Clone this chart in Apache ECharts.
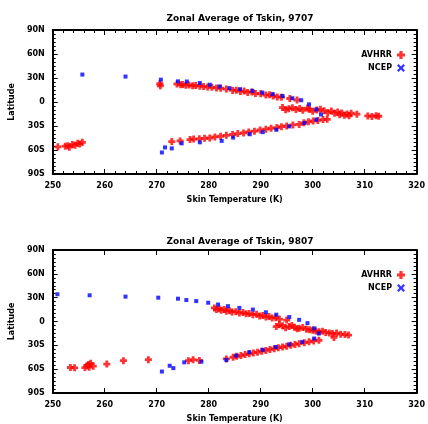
<!DOCTYPE html>
<html>
<head>
<meta charset="utf-8">
<script src="https://cdn.jsdelivr.net/npm/echarts@6/dist/echarts.min.js"></script>
<style>
  html, body { margin: 0; padding: 0; background: #fff; }
  #chart { width: 428px; height: 424px; }
</style>
</head>
<body>
<div id="chart"></div>
<script>
const titles = ["Zonal Average of Tskin, 9707", "Zonal Average of Tskin, 9807"];
const xTicks = [250, 260, 270, 280, 290, 300, 310, 320];
const latTicks = [-90, -60, -30, 0, 30, 60, 90];

// panel 1 — AVHRR (red) skin temperature (K) and latitude (deg)
const p1AvhrrTemp = [251.0, 252.9, 253.8, 254.8, 255.7, 253.2, 254.3, 252.4, 255.2,
  270.6, 270.7, 273.9, 274.6, 275.0, 275.6, 276.2, 276.9, 277.5, 278.3, 279.0, 279.8, 280.6, 281.5, 282.3, 283.4, 284.6, 285.3, 286.1, 286.8, 287.5, 288.3, 289.0, 290.0, 291.0, 291.7, 292.4, 293.2, 294.0, 295.6, 297.0,
  294.2, 294.8, 295.4, 296.1, 296.8, 297.5, 298.1, 299.0, 299.3, 300.0, 300.8, 301.5, 302.2, 302.9, 303.6, 304.2, 304.8, 305.2, 305.6, 306.1, 306.6, 307.0, 307.4, 308.5, 310.6, 311.4, 312.2, 312.7,
  302.8, 302.0, 301.0, 300.1, 299.2, 298.3, 297.4, 296.2, 295.0, 294.0, 293.1, 292.0, 291.0, 289.9, 288.8, 287.7, 286.7, 285.6, 284.6, 283.4, 282.3, 281.2, 280.2, 279.2, 278.2, 277.1, 276.4, 274.5, 272.9];
const p1AvhrrLat = [-56.0, -54.6, -53.0, -51.7, -50.4, -56.5, -54.0, -55.2, -52.6,
  22.8, 20.3, 22.5, 21.5, 21.9, 20.8, 21.4, 20.2, 20.6, 19.8, 19.5, 18.6, 18.3, 17.6, 17.2, 16.2, 14.5, 14.8, 13.2, 13.6, 12.0, 12.6, 10.6, 10.2, 8.6, 9.0, 7.6, 6.4, 6.0, 4.4, 2.5,
  -7.0, -9.6, -8.4, -7.2, -9.5, -8.0, -10.4, -7.6, -9.0, -11.6, -10.0, -9.2, -11.0, -13.2, -11.3, -14.0, -12.5, -16.0, -13.8, -16.5, -15.0, -17.2, -14.0, -15.2, -17.4, -18.0, -17.2, -17.8,
  -21.6, -22.0, -23.0, -23.6, -24.8, -26.0, -28.0, -28.6, -30.0, -30.8, -32.0, -32.8, -34.0, -35.0, -36.5, -37.4, -38.6, -39.5, -40.6, -41.6, -42.8, -43.6, -45.0, -45.4, -46.0, -46.4, -47.0, -48.6, -49.5];

// panel 1 — NCEP (blue)
const p1NcepTemp = [255.7, 264.0, 270.8, 274.1, 275.8, 278.3, 280.2, 282.1, 284.0, 286.0, 288.4, 290.3, 292.3, 294.2, 296.1, 297.8,
  299.3, 300.7, 301.6, 300.7, 298.4, 295.5, 293.0, 290.4, 287.9, 284.7, 282.5, 278.3, 274.8, 272.9, 271.6, 271.0];
const p1NcepLat = [34.3, 31.8, 27.9, 25.8, 25.6, 23.7, 21.6, 19.4, 17.4, 16.1, 14.0, 11.8, 9.8, 7.6, 4.7, 2.2,
  -2.9, -9.3, -15.6, -22.0, -26.3, -30.5, -34.7, -37.7, -40.3, -44.5, -48.6, -50.4, -51.7, -58.0, -56.8, -63.1];

// panel 2 — AVHRR (red)
const p2AvhrrTemp = [253.4, 254.2, 256.6, 257.3, 257.0, 256.9, 257.8, 256.2, 260.4, 263.6, 268.4, 276.1, 277.0, 278.2,
  281.1, 281.5, 282.0, 282.4, 283.0, 283.4, 284.0, 284.5, 285.2, 285.9, 286.6, 287.2, 287.8, 288.5, 289.2, 289.8, 290.4, 291.0, 291.6, 292.2, 292.9, 293.6, 295.0,
  293.0, 293.6, 294.2, 294.8, 295.5, 296.0, 296.5, 297.0, 297.4, 298.1, 298.8, 299.4, 300.0, 300.6, 301.2, 301.9, 302.5, 303.2, 303.8, 304.6, 305.4, 306.2, 306.9, 304.1,
  301.2, 300.2, 299.3, 298.4, 297.4, 296.6, 295.8, 295.0, 294.2, 293.4, 292.6, 291.8, 291.0, 290.2, 289.4, 288.6, 287.8, 287.0, 286.2, 285.4, 284.7, 283.4];
const p2AvhrrLat = [-57.9, -58.3, -55.7, -52.7, -57.5, -54.0, -56.2, -58.0, -53.6, -49.3, -48.0, -49.3, -48.0, -49.0,
  17.1, 15.0, 16.2, 14.2, 15.2, 12.9, 13.6, 12.0, 12.4, 10.7, 11.2, 9.6, 10.0, 8.6, 9.0, 7.0, 7.4, 5.6, 6.2, 4.4, 4.8, 3.0, 1.8,
  -6.4, -4.2, -5.2, -8.0, -6.4, -5.0, -7.2, -9.2, -8.6, -7.4, -9.6, -10.4, -11.0, -12.0, -12.9, -12.2, -13.8, -14.4, -15.0, -14.6, -16.0, -16.4, -17.1, -20.1,
  -23.6, -24.4, -25.6, -26.6, -27.9, -28.8, -30.0, -31.0, -32.1, -33.0, -34.2, -35.2, -36.4, -37.4, -38.6, -39.6, -40.7, -41.6, -42.8, -43.8, -45.0, -47.1];

// panel 2 — NCEP (blue)
const p2NcepTemp = [250.9, 257.1, 264.0, 270.3, 274.1, 275.7, 277.6, 279.9, 281.8, 283.7, 285.9, 288.5, 291.0, 293.0, 295.5, 297.4,
  299.0, 300.3, 301.2, 300.3, 298.0, 295.5, 292.9, 290.4, 287.8, 285.3, 283.4, 278.6, 275.3, 272.5, 273.2, 271.0];
const p2NcepLat = [34.3, 33.0, 31.3, 30.0, 28.7, 27.0, 25.7, 23.6, 21.4, 19.3, 17.1, 15.0, 11.6, 8.6, 5.6, 2.1,
  -2.1, -8.6, -15.0, -21.4, -25.7, -28.7, -32.1, -35.6, -38.6, -42.9, -48.4, -50.6, -51.4, -55.7, -58.7, -63.0];

const zip = (xs, ys) => xs.map((x, i) => [x, ys[i]]);
const plusSym = "path://M3,0H7V3H10V7H7V10H3V7H0V3H3Z";
const crossSym = "path://M0,2L2,0L5,3L8,0L10,2L7,5L10,8L8,10L5,7L2,10L0,8L3,5Z";
const font = "DejaVu Sans";

const latLabel = (v) => (v === 0 ? "0" : v > 0 ? v + "N" : -v + "S");

const grids = [
  { left: 52, right: 10, top: 30, height: 144 },
  { left: 52, right: 10, top: 250, height: 144 },
];

const xAxes = [];
const yAxes = [];
grids.forEach((g, i) => {
  const minor = i === 0;
  const line = { onZero: false, lineStyle: { color: "#000", width: 2 } };
  const tick = { show: true, inside: true, length: 5, lineStyle: { color: "#000" } };
  xAxes.push({
    gridIndex: i, type: "value", min: 250, max: 320, interval: 10, position: "bottom",
    name: "Skin Temperature (K)", nameLocation: "middle", nameGap: 22,
    nameTextStyle: { color: "#000", fontSize: 8, fontFamily: font, fontWeight: "bold" },
    axisLine: line, axisTick: tick,
    minorTick: { show: minor, splitNumber: 5, length: 3, lineStyle: { color: "#000" } },
    axisLabel: { color: "#000", fontSize: 8, fontFamily: font, fontWeight: "bold", margin: 8 },
    splitLine: { show: false },
  });
  xAxes.push({
    gridIndex: i, type: "value", min: 250, max: 320, interval: 10, position: "top",
    axisLine: line, axisTick: tick,
    minorTick: { show: minor, splitNumber: 5, length: 3, lineStyle: { color: "#000" } },
    axisLabel: { show: false }, splitLine: { show: false },
  });
  yAxes.push({
    gridIndex: i, type: "value", min: -90, max: 90, interval: 30, position: "left",
    name: "Latitude", nameLocation: "middle", nameGap: 34,
    nameTextStyle: { color: "#000", fontSize: 8, fontFamily: font, fontWeight: "bold" },
    axisLine: { show: true, ...line }, axisTick: tick,
    minorTick: { show: true, splitNumber: 6, length: 3, lineStyle: { color: "#000" } },
    axisLabel: { color: "#000", fontSize: 8, fontFamily: font, fontWeight: "bold", margin: 8,
      formatter: latLabel },
    splitLine: { show: false },
  });
  yAxes.push({
    gridIndex: i, type: "value", min: -90, max: 90, interval: 30, position: "right",
    axisLine: { show: true, ...line }, axisTick: tick,
    minorTick: { show: true, splitNumber: 6, length: 3, lineStyle: { color: "#000" } },
    axisLabel: { show: false }, splitLine: { show: false },
  });
});

const panels = [
  { avhrr: zip(p1AvhrrTemp, p1AvhrrLat), ncep: zip(p1NcepTemp, p1NcepLat) },
  { avhrr: zip(p2AvhrrTemp, p2AvhrrLat), ncep: zip(p2NcepTemp, p2NcepLat) },
];

const series = [];
panels.forEach((p, i) => {
  series.push({
    name: "AVHRR", type: "scatter", xAxisIndex: i * 2, yAxisIndex: i * 2,
    data: p.avhrr, symbol: plusSym, symbolSize: 7,
    itemStyle: { color: "#ff0000" }, z: 3,
  });
  series.push({
    name: "NCEP", type: "scatter", xAxisIndex: i * 2, yAxisIndex: i * 2,
    data: p.ncep, symbol: "rect", symbolSize: 4,
    itemStyle: { color: "#0000ff" }, z: 4,
  });
});

const legendTops = [46, 266];
const titleTops = [9, 232];

const chart = echarts.init(document.getElementById("chart"), null, { renderer: "canvas" });
chart.setOption({
  backgroundColor: "#fff",
  animation: false,
  title: titles.map((t, i) => ({
    text: t, left: 235, top: titleTops[i], textAlign: "center",
    textStyle: { color: "#000", fontSize: 9, fontFamily: font, fontWeight: "bold" },
  })),
  legend: legendTops.map((top) => ({
    data: [
      { name: "AVHRR", icon: plusSym, itemStyle: { color: "#ff0000" } },
      { name: "NCEP", icon: crossSym, itemStyle: { color: "#0000ff" } },
    ],
    orient: "vertical", right: 18, top, align: "right",
    itemWidth: 8, itemHeight: 8, itemGap: 5,
    selectedMode: false,
    textStyle: { color: "#000", fontSize: 8, fontFamily: font, fontWeight: "bold" },
  })),
  grid: grids,
  xAxis: xAxes,
  yAxis: yAxes,
  series,
});
</script>
</body>
</html>
